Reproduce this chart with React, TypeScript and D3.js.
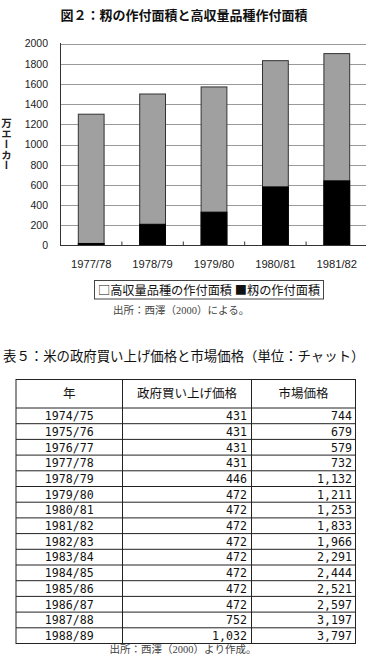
import React from "react";
import * as d3 from "d3";

const years = ["1977/78", "1978/79", "1979/80", "1980/81", "1981/82"];
const totalArea = [1300, 1500, 1570, 1830, 1900];
const hyvArea = [20, 210, 330, 580, 640];
const yTicks = [0, 200, 400, 600, 800, 1000, 1200, 1400, 1600, 1800, 2000];

const tableYears = ["1974/75", "1975/76", "1976/77", "1977/78", "1978/79", "1979/80", "1980/81", "1981/82", "1982/83", "1983/84", "1984/85", "1985/86", "1986/87", "1987/88", "1988/89"];
const govPrice = ["431", "431", "431", "431", "446", "472", "472", "472", "472", "472", "472", "472", "472", "752", "1,032"];
const marketPrice = ["744", "679", "579", "732", "1,132", "1,211", "1,253", "1,833", "1,966", "2,291", "2,444", "2,521", "2,597", "3,197", "3,797"];
const headers = ["年", "政府買い上げ価格", "市場価格"];

const GOTHIC = "'Noto Sans CJK JP', sans-serif";
const SANS = "'Liberation Sans', Arial, sans-serif";
const SERIF = "'Liberation Serif', 'Noto Sans CJK JP', serif";
const MONO = "'DejaVu Sans Mono', 'Liberation Mono', monospace";

export default function App() {
  const x = d3.scaleBand<string>().domain(years).range([60.5, 367.5]).paddingInner(0.58).paddingOuter(0.29);
  const y = d3.scaleLinear().domain([0, 2000]).range([245.5, 43.5]);
  const step = x.step();
  const boundaries = d3.range(years.length + 1).map((i) => 60.5 + i * step);

  const colX = [16, 122.5, 251.5, 355.5];
  const tTop = 379.5;
  const headH = 28.5;
  const rowH = 15.7;
  const rowY = (i: number) => tTop + headH + i * rowH;

  return (
    <svg width={366} height={655} style={{ position: "absolute", left: 0, top: 0, background: "#fff" }}>
      <text x={184} y={20} textAnchor="middle" fontFamily={GOTHIC} fontWeight="bold" fontSize={13} fill="#111">
        図２：籾の作付面積と高収量品種作付面積
      </text>

      {yTicks.filter((t) => t > 0).map((t) => (
        <line key={t} x1={60.5} x2={366} y1={Math.round(y(t)) + 0.5} y2={Math.round(y(t)) + 0.5} stroke="#9a9a9a" strokeWidth={1} />
      ))}

      {years.map((yr, i) => (
        <g key={yr}>
          <rect x={x(yr)!} y={y(totalArea[i])} width={x.bandwidth()} height={y(0) - y(totalArea[i])} fill="#a0a0a0" stroke="#333" strokeWidth={1} />
          <rect x={x(yr)!} y={y(hyvArea[i])} width={x.bandwidth()} height={y(0) - y(hyvArea[i])} fill="#000" stroke="#000" strokeWidth={1} />
        </g>
      ))}

      <line x1={60.5} x2={60.5} y1={43} y2={246} stroke="#333" />
      <line x1={60} x2={366} y1={245.5} y2={245.5} stroke="#333" />
      {boundaries.map((b, i) => (
        <line key={i} x1={b} x2={b} y1={245.5} y2={241.5} stroke="#333" />
      ))}

      {yTicks.map((t) => (
        <text key={t} x={48} y={y(t) + 3.8} textAnchor="end" fontFamily={SANS} fontSize={10.5} fill="#222">
          {t}
        </text>
      ))}
      {years.map((yr) => (
        <text key={yr} x={x(yr)! + x.bandwidth() / 2} y={268} textAnchor="middle" fontFamily={SANS} fontSize={11.2} fill="#222">
          {yr}
        </text>
      ))}

      <text x={6.5} y={118} fontFamily={GOTHIC} fontWeight="bold" fontSize={10.5} fill="#222" style={{ writingMode: "vertical-rl" as any }}>
        万エーカー
      </text>

      <rect x={94.5} y={280.5} width={229} height={18.5} fill="#fff" stroke="#444" />
      <text x={98} y={294.5} fontFamily={GOTHIC} fontSize={12.2} fill="#111">
        □高収量品種の作付面積 ■籾の作付面積
      </text>

      <text x={113} y={313.5} fontFamily={SERIF} fontSize={10.5} fill="#444">
        出所：西澤（2000）による。
      </text>

      <text x={3} y={361} fontFamily={SERIF} fontSize={13.4} fill="#111">
        表５：米の政府買い上げ価格と市場価格（単位：チャット）
      </text>

      <rect x={colX[0]} y={tTop} width={colX[3] - colX[0]} height={headH + rowH * tableYears.length} fill="#fff" stroke="#222" />
      {colX.slice(1, 3).map((cx) => (
        <line key={cx} x1={cx} x2={cx} y1={tTop} y2={tTop + headH + rowH * tableYears.length} stroke="#222" />
      ))}
      {d3.range(tableYears.length).map((i) => (
        <line key={i} x1={colX[0]} x2={colX[3]} y1={rowY(i)} y2={rowY(i)} stroke="#222" />
      ))}
      {headers.map((h, j) => (
        <text key={h} x={(colX[j] + colX[j + 1]) / 2} y={tTop + headH / 2 + 4.5} textAnchor="middle" fontFamily={GOTHIC} fontSize={12.5} fill="#111">
          {h}
        </text>
      ))}
      {tableYears.map((yr, i) => (
        <g key={yr} fontFamily={MONO} fontSize={11.6} fill="#111">
          <text x={(colX[0] + colX[1]) / 2} y={rowY(i) + rowH / 2 + 4.3} textAnchor="middle">{yr}</text>
          <text x={colX[2] - 4.5} y={rowY(i) + rowH / 2 + 4.3} textAnchor="end">{govPrice[i]}</text>
          <text x={colX[3] - 3.5} y={rowY(i) + rowH / 2 + 4.3} textAnchor="end">{marketPrice[i]}</text>
        </g>
      ))}

      <text x={183} y={653} textAnchor="middle" fontFamily={SERIF} fontSize={10.5} fill="#444">
        出所：西澤（2000）より作成。
      </text>
    </svg>
  );
}
